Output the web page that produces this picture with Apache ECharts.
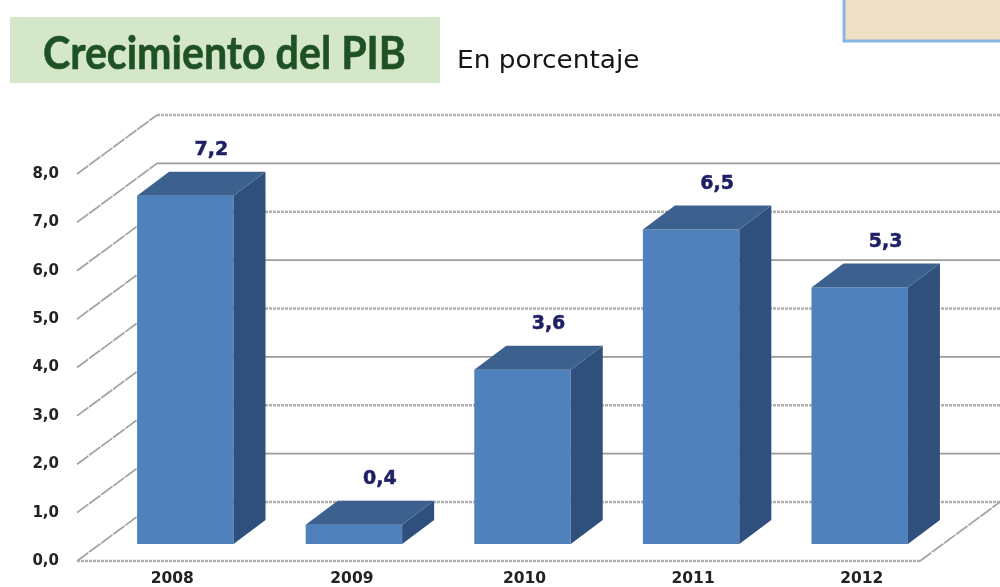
<!DOCTYPE html>
<html>
<head>
<meta charset="utf-8">
<style>html,body{margin:0;padding:0;background:#fff}#c{width:1000px;height:587px}</style>
<script src="https://cdn.jsdelivr.net/npm/echarts@6/dist/echarts.min.js"></script>
</head>
<body>
<div id="c"></div>
<script>
var years = ['2008', '2009', '2010', '2011', '2012'];
var growth = [7.2, 0.4, 3.6, 6.5, 5.3];
var ticks = [0, 1, 2, 3, 4, 5, 6, 7, 8];
var titleText = 'Crecimiento del PIB';
var subtitleText = 'En porcentaje';

var DEPTH = [80, -59];       // wall offset from the front plane
var BAR_SHIFT = [24, -17];   // bars stand inside the floor
var BAR_DEPTH = [32, -24];
var LABEL_PAD = [22, 44, 52, 52, 52];
var FONT = '"DejaVu Sans", Verdana, sans-serif';
var comma = function (v) { return v.toFixed(1).replace('.', ','); };

var chart = echarts.init(document.getElementById('c'), null, {renderer: 'canvas'});

function renderWall(params, api) {
  var v = api.value(0);
  var cs = params.coordSys;
  var y = api.coord([0, v])[1];
  var x0 = cs.x, x1 = cs.x + cs.width;
  var wavy = v % 2 === 0;
  var style = {
    stroke: wavy ? '#b0b0b0' : '#9c9c9c',
    lineWidth: wavy ? 2.6 : 1.6,
    lineDash: wavy ? [3, 1] : null,
    fill: null
  };
  var diag = {lineWidth: 1.8, stroke: '#a4a4a4', fill: null, lineDash: [14, 1]};
  var kids = [
    {type: 'line', shape: {x1: x0, y1: y, x2: x0 + DEPTH[0], y2: y + DEPTH[1]}, style: diag},
    {type: 'line', shape: {x1: x0 + DEPTH[0], y1: y + DEPTH[1], x2: x1 + DEPTH[0], y2: y + DEPTH[1]}, style: style}
  ];
  if (v === 0) {
    kids.push({type: 'line', shape: {x1: x0, y1: y, x2: x1, y2: y}, style: style});
    kids.push({type: 'line', shape: {x1: x1, y1: y, x2: x1 + DEPTH[0], y2: y + DEPTH[1]}, style: diag});
  }
  return {type: 'group', children: kids};
}

function renderBar(params, api) {
  var i = api.value(0), v = api.value(1);
  var base = api.coord([i, 0]), top = api.coord([i, v]);
  var w = api.size([1, 0])[0] * 0.572;
  var l = base[0] - w / 2 + BAR_SHIFT[0], r = l + w;
  var b = base[1] + BAR_SHIFT[1], t = top[1] + BAR_SHIFT[1];
  var dx = BAR_DEPTH[0], dy = BAR_DEPTH[1];
  return {type: 'group', children: [
    {type: 'rect', shape: {x: l, y: t, width: w, height: b - t}, style: {fill: '#4f81bd'}},
    {type: 'polygon', shape: {points: [[r, t], [r + dx, t + dy], [r + dx, b + dy], [r, b]]}, style: {fill: '#2f4f7c'}},
    {type: 'polygon', shape: {points: [[l, t], [l + dx, t + dy], [r + dx, t + dy], [r, t]]}, style: {fill: '#3c618f'}},
    {type: 'text', x: (l + r) / 2 + 26, y: t + dy - 22, style: {
      text: comma(v), fill: '#1f1f66', stroke: '#1f1f66', lineWidth: 0.5,
      align: 'center', verticalAlign: 'middle',
      fontFamily: FONT, fontWeight: 'bold', fontSize: 19
    }}
  ]};
}

var rich = {};
LABEL_PAD.forEach(function (p, i) {
  rich['c' + i] = {padding: [0, 0, 0, p], fontFamily: FONT, fontWeight: 'bold', fontSize: 15.5, color: '#222'};
});

chart.setOption({
  animation: false,
  backgroundColor: '#fff',
  graphic: [
    {type: 'rect', z: -1, shape: {x: 10, y: 17, width: 430, height: 66}, style: {fill: '#d5e7c9'}},
    {type: 'rect', z: -1, shape: {x: 844, y: -10, width: 170, height: 51}, style: {fill: '#efdfc5', stroke: '#8ab6e2', lineWidth: 3}},
    {type: 'text', x: 43, y: 54, scaleX: 0.894, style: {
      text: titleText, fill: '#1e5124', stroke: '#1e5124', lineWidth: 0.6,
      fontFamily: 'Lato', fontWeight: 'bold', fontSize: 46,
      align: 'left', verticalAlign: 'middle'
    }},
    {type: 'text', x: 457, y: 62, scaleX: 1.1, style: {
      text: subtitleText, fill: '#151515', fontFamily: FONT, fontWeight: 'normal', fontSize: 24,
      align: 'left', verticalAlign: 'middle'
    }}
  ],
  grid: {left: 77, top: 174, width: 843, height: 388},
  xAxis: {
    type: 'category', data: years,
    axisLine: {show: false}, axisTick: {show: false}, splitLine: {show: false},
    axisLabel: {
      margin: 10, rich: rich,
      formatter: function (val, i) { return '{c' + i + '|' + val + '}'; }
    }
  },
  yAxis: {
    type: 'value', min: 0, max: 8, interval: 1,
    axisLine: {show: false}, axisTick: {show: false}, splitLine: {show: false},
    axisLabel: {
      margin: 18, formatter: comma,
      fontFamily: FONT, fontWeight: 'bold', fontSize: 15, color: '#222'
    }
  },
  series: [
    {type: 'custom', name: 'walls', z: 1, clip: false, silent: true,
     renderItem: renderWall, encode: {y: 0}, data: ticks.map(function (t) { return [t]; })},
    {type: 'custom', name: 'Crecimiento', z: 2, clip: false, silent: true,
     renderItem: renderBar, encode: {x: 0, y: 1},
     data: growth.map(function (v, i) { return [i, v]; })}
  ]
});
</script>
</body>
</html>
